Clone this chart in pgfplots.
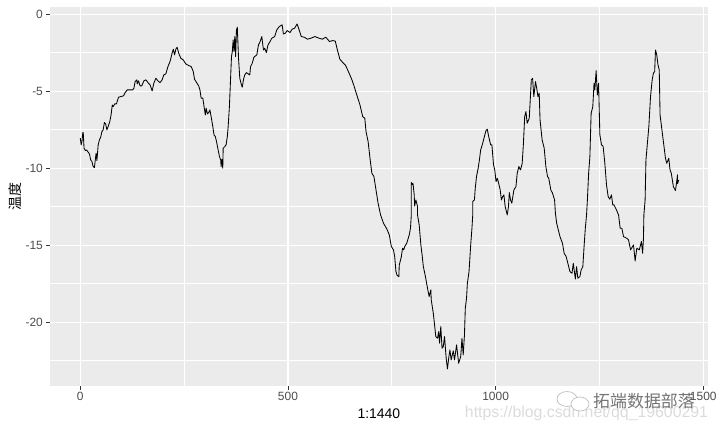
\documentclass[border=0pt]{standalone}
\usepackage{pgfplots}
\usepackage{fontspec}
\setmainfont{Liberation Sans}
\newfontfamily\cjk{Noto Sans CJK SC}
\pgfplotsset{compat=1.18}
\definecolor{panel}{HTML}{EBEBEB}
\definecolor{tl}{HTML}{4D4D4D}
\definecolor{tk}{HTML}{333333}
\begin{document}
\begin{tikzpicture}
\path[use as bounding box] (-50bp,-45bp) rectangle (666bp,386bp);
\begin{axis}[
  at={(0,0)},anchor=south west,
  scale only axis,width=657.7bp,height=379bp,
  xmin=-73,xmax=1510.7,ymin=-24.14,ymax=0.47,
  axis background/.style={fill=panel},
  axis line style={draw=none},
  xtick={0,500,1000,1500},xticklabels={0,500,1000,1500},
  ytick={-20,-15,-10,-5,0},yticklabels={-20,-15,-10,-5,0},
  minor xtick={250,750,1250},
  minor ytick={-22.5,-17.5,-12.5,-7.5,-2.5},
  grid=both,
  major grid style={draw=white,line width=1.1bp},
  minor grid style={draw=white,line width=0.8bp},
  tick pos=left,tick align=outside,
  major tick length=3.6bp,minor tick length=0pt,
  major tick style={draw=tk,line width=0.8bp},
  minor tick style={draw=none},
  tick label style={font=\fontsize{12}{12}\selectfont,text=tl},
  xticklabel style={yshift=0.5bp},
  every axis x label/.style={at={(axis description cs:0.5,0)},anchor=center,yshift=-28bp},
  every axis y label/.style={at={(axis description cs:0,0.5)},anchor=center,rotate=90,yshift=35bp},
  xlabel={\fontsize{14}{14}\selectfont 1:1440},
  ylabel={\fontsize{14}{14}\selectfont\cjk 温度},
  clip=false,
]
\addplot[black,line width=0.85bp,line join=round] table {
0 -8.05
2 -8.48
4 -8.27
6 -7.68
7 -7.68
9 -8.70
12 -8.85
15 -8.81
18 -8.92
22 -9.07
25 -9.46
28 -9.57
31 -9.89
34 -9.96
36 -9.46
38 -9.03
40 -9.50
43 -8.48
46 -8.16
49 -7.99
52 -7.62
55 -7.51
58 -7.03
61 -7.12
64 -7.51
67 -7.29
71 -6.97
74 -6.54
77 -5.89
79 -6.0
83 -5.82
87 -5.82
92 -5.39
97 -5.35
104 -5.30
108 -5.09
113 -4.91
120 -4.91
126 -4.91
129 -4.81
132 -4.37
136 -4.26
137 -4.52
140 -4.33
144 -4.65
148 -4.65
153 -4.33
158 -4.26
163 -4.44
168 -4.59
173 -4.98
177 -4.48
182 -4.16
187 -4.33
192 -4.44
197 -4.26
201 -3.94
206 -3.87
211 -3.40
216 -3.07
221 -2.53
224 -2.27
227 -2.64
230 -2.27
233 -2.14
237 -2.53
242 -2.86
248 -2.97
254 -3.23
261 -3.33
267 -3.40
272 -3.72
275 -4.22
280 -4.44
285 -4.65
288 -4.91
291 -5.45
295 -5.45
298 -6.0
301 -6.54
303 -6.10
306 -6.47
309 -6.39
312 -6.21
315 -6.65
319 -7.29
322 -7.84
325 -7.94
328 -8.27
331 -8.70
335 -9.24
338 -9.46
339 -9.89
341 -9.42
343 -10.0
344 -8.70
348 -8.59
351 -8.48
354 -7.94
356 -7.29
359 -6.0
362 -4.05
364 -2.75
366 -2.42
368 -1.67
370 -2.42
372 -1.45
374 -2.75
376 -1.02
378 -0.84
381 -2.86
384 -4.16
388 -4.59
390 -4.74
393 -4.22
396 -3.94
400 -3.79
404 -3.87
408 -3.94
410 -3.40
414 -3.18
418 -2.79
425 -2.64
429 -1.99
433 -1.77
437 -1.45
441 -2.32
444 -2.21
448 -2.49
452 -1.99
457 -1.77
461 -1.56
468 -1.45
473 -1.02
479 -0.80
486 -0.69
489 -1.28
494 -1.23
498 -1.06
505 -1.19
510 -0.97
516 -0.91
522 -0.63
527 -1.02
532 -1.45
539 -1.49
547 -1.62
555 -1.56
565 -1.45
575 -1.56
583 -1.62
591 -1.49
600 -1.77
608 -1.71
614 -1.75
619 -2.32
625 -2.92
632 -3.14
638 -3.29
643 -3.57
649 -3.94
654 -4.26
659 -4.65
664 -5.09
669 -5.52
673 -5.85
680 -6.65
685 -6.75
688 -7.62
693 -8.27
698 -9.46
702 -10.32
707 -10.54
712 -11.41
717 -12.27
723 -13.03
730 -13.57
738 -13.94
744 -14.33
749 -15.09
754 -15.30
757 -15.74
760 -16.71
763 -16.97
767 -17.03
768 -16.28
773 -15.74
776 -15.19
779 -15.30
781 -15.09
786 -14.87
792 -14.33
795 -13.90
797 -13.03
797 -10.93
800 -11.08
801 -10.97
804 -11.73
805 -12.45
808 -12.06
812 -12.49
812 -13.03
816 -13.68
820 -14.98
823 -15.63
826 -16.39
831 -17.03
836 -17.79
840 -18.33
844 -17.90
845 -18.55
850 -19.42
853 -20.17
856 -20.93
860 -21.04
863 -20.61
865 -21.36
868 -20.28
871 -21.69
874 -21.58
877 -20.93
881 -22.34
884 -23.03
887 -22.34
890 -21.80
893 -22.45
898 -21.86
901 -22.45
906 -21.47
911 -22.66
916 -22.23
919 -21.04
922 -22.12
925 -20.82
927 -19.09
930 -18.44
932 -17.47
936 -16.71
940 -14.98
943 -13.90
945 -13.03
945 -12.16
949 -12.06
951 -11.30
954 -10.54
958 -10.0
961 -9.46
964 -8.81
969 -8.38
974 -7.84
977 -7.55
980 -7.47
983 -7.90
988 -8.48
991 -8.48
995 -9.78
998 -10.11
1001 -10.87
1004 -10.65
1007 -10.93
1011 -11.41
1014 -12.06
1017 -11.84
1020 -11.73
1023 -12.49
1028 -13.03
1031 -12.49
1033 -11.58
1036 -12.06
1039 -12.27
1044 -11.41
1049 -11.19
1052 -10.32
1056 -9.89
1060 -10.11
1064 -9.68
1067 -8.38
1070 -6.65
1073 -6.32
1076 -7.08
1081 -6.75
1086 -4.26
1089 -4.16
1092 -5.35
1096 -4.37
1099 -4.81
1102 -5.35
1105 -5.13
1107 -6.86
1112 -8.16
1117 -8.70
1121 -9.89
1125 -10.54
1128 -10.65
1133 -11.41
1137 -11.62
1142 -12.06
1144 -12.92
1147 -13.57
1155 -14.44
1161 -14.87
1165 -15.52
1170 -15.74
1175 -16.28
1179 -16.71
1184 -16.82
1187 -16.17
1192 -17.19
1195 -16.39
1198 -17.14
1203 -17.03
1206 -16.60
1210 -16.39
1213 -15.09
1216 -13.90
1219 -13.03
1221 -12.06
1224 -10.32
1227 -9.24
1230 -6.43
1234 -6.0
1237 -4.48
1239 -4.91
1242 -3.66
1245 -5.24
1248 -4.48
1251 -7.84
1255 -8.48
1259 -8.59
1263 -9.68
1267 -11.08
1271 -11.84
1275 -12.01
1279 -11.73
1282 -12.38
1285 -12.38
1291 -12.71
1296 -13.03
1300 -13.90
1304 -13.90
1308 -14.44
1316 -14.55
1320 -14.65
1325 -15.30
1332 -14.98
1336 -16.02
1340 -15.19
1346 -15.30
1351 -14.76
1354 -15.52
1356 -14.55
1357 -13.03
1360 -12.06
1362 -9.46
1369 -7.29
1373 -5.35
1377 -4.26
1380 -3.83
1383 -3.72
1385 -2.32
1388 -2.64
1391 -3.29
1394 -3.61
1396 -6.54
1402 -7.84
1409 -9.35
1412 -9.68
1417 -9.35
1420 -10.11
1423 -10.32
1428 -11.19
1433 -11.45
1435 -11.08
1438 -10.43
1438 -11.00
1441 -10.76
};
\end{axis}
% watermark (positions from the reference, origin at the panel's lower left)
\node[anchor=center,text=black!14,font=\fontsize{15.9}{16}\selectfont] at (536.5bp,-27bp) {https://blog.csdn.net/qq\_19600291};
\node[anchor=center,text=black!55,font=\cjk\fontsize{17}{17}\selectfont] at (594bp,-15bp) {拓端数据部落};
\draw[black!25,line width=0.7bp,fill=white] (517bp,-13bp) ellipse (10bp and 7.5bp);
\draw[black!25,line width=0.7bp,fill=white] (530bp,-18bp) ellipse (9bp and 7bp);
\end{tikzpicture}
\end{document}
